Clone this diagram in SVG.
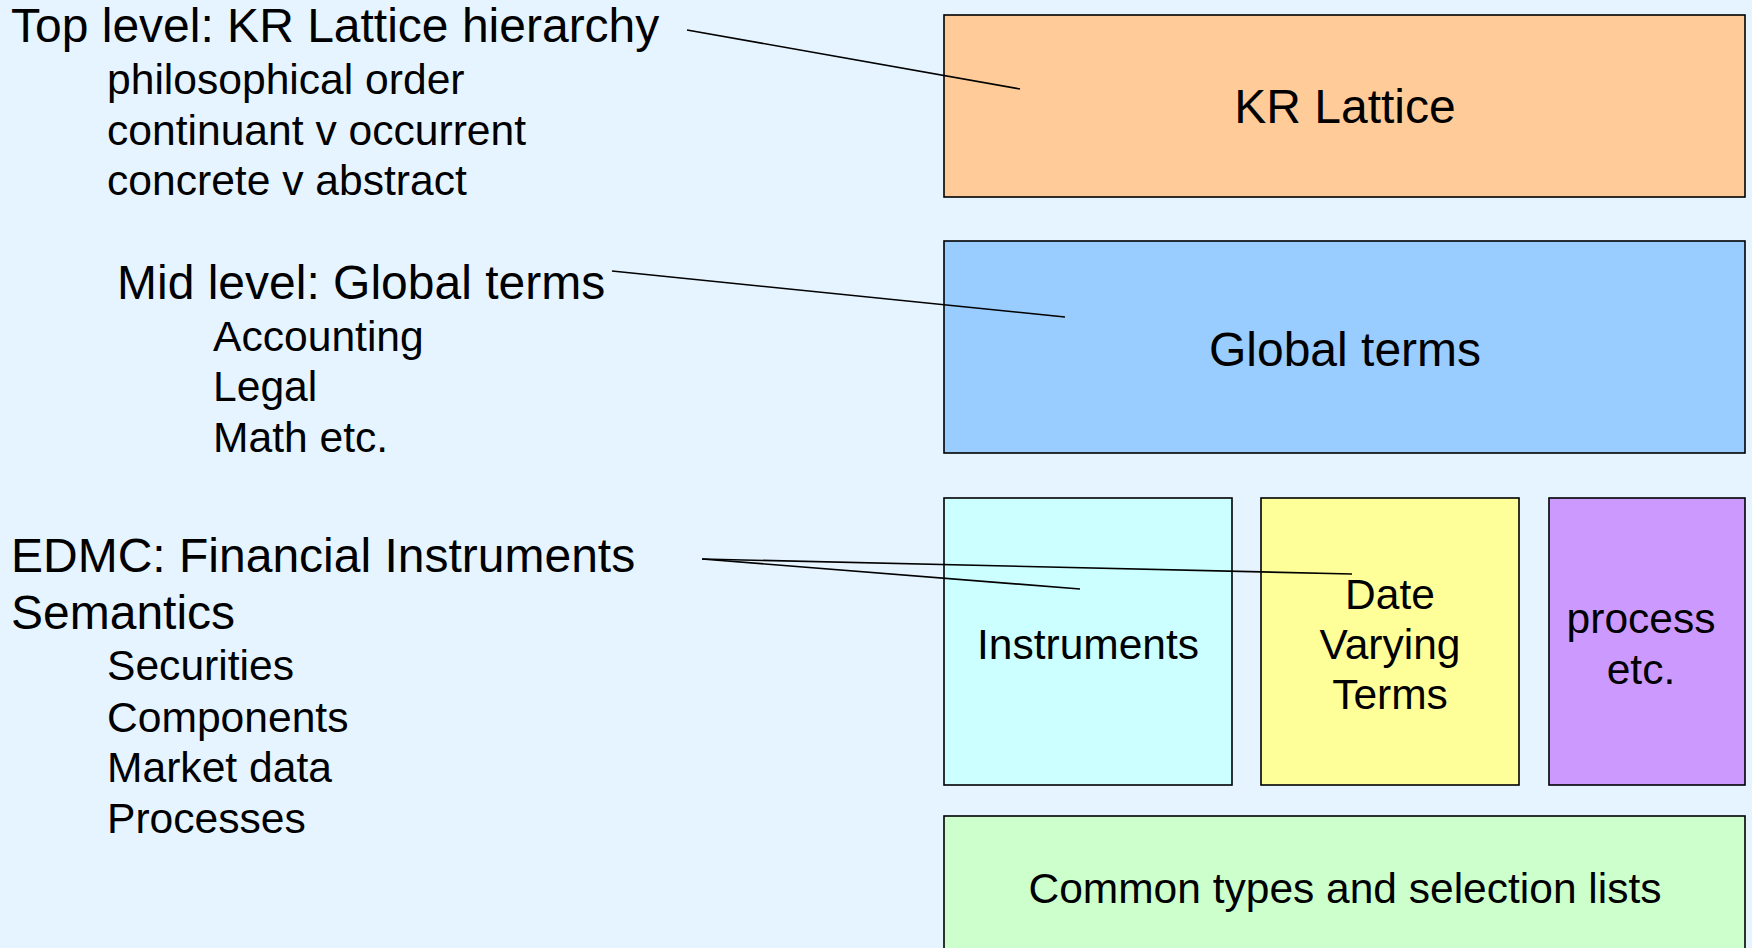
<svg xmlns="http://www.w3.org/2000/svg" width="1752" height="948" viewBox="0 0 1752 948">
<style>
.bg{fill:#E6F4FF}
.box{stroke:#000;stroke-width:1.6}
text{font-family:"Liberation Sans",Arial,sans-serif;fill:#000}
.h{font-size:48px}
.s{font-size:42.6px}
.bl{font-size:48px;text-anchor:middle}
.bs{font-size:42.5px;text-anchor:middle}
.conn line{stroke:#000;stroke-width:1.6}
</style>
<rect class="bg" x="0" y="0" width="1752" height="948"/>
<g id="labels">
<text class="h" x="11" y="42">Top level: KR Lattice hierarchy</text>
<text class="s" x="107" y="94">philosophical order</text>
<text class="s" x="107" y="145">continuant v occurrent</text>
<text class="s" x="107" y="195">concrete v abstract</text>
<text class="h" x="117" y="299">Mid level: Global terms</text>
<text class="s" x="213" y="351">Accounting</text>
<text class="s" x="213" y="401">Legal</text>
<text class="s" x="213" y="452">Math etc.</text>
<text class="h" x="11" y="572">EDMC: Financial Instruments</text>
<text class="h" x="11" y="629">Semantics</text>
<text class="s" x="107" y="680">Securities</text>
<text class="s" x="107" y="732">Components</text>
<text class="s" x="107" y="782">Market data</text>
<text class="s" x="107" y="833">Processes</text>
</g>
<g id="kr-lattice">
<rect class="box" x="944" y="15" width="801" height="182" fill="#FFCC99"/>
<text class="bl" x="1345" y="123">KR Lattice</text>
</g>
<g id="global-terms">
<rect class="box" x="944" y="241" width="801" height="212" fill="#99CCFF"/>
<text class="bl" x="1345" y="366">Global terms</text>
</g>
<g id="instruments">
<rect class="box" x="944" y="498" width="288" height="287" fill="#CCFFFF"/>
<text class="bs" x="1088" y="659">Instruments</text>
</g>
<g id="date-varying-terms">
<rect class="box" x="1261" y="498" width="258" height="287" fill="#FFFF99"/>
<text class="bs" x="1390" y="609">Date</text>
<text class="bs" x="1390" y="659">Varying</text>
<text class="bs" x="1390" y="709">Terms</text>
</g>
<g id="process-etc">
<rect class="box" x="1549" y="498" width="196" height="287" fill="#CC99FF"/>
<text class="bs" x="1641" y="633">process</text>
<text class="bs" x="1641" y="684">etc.</text>
</g>
<g id="common-types">
<rect class="box" x="944" y="816" width="801" height="150" fill="#CCFFCC"/>
<text class="bs" x="1345" y="903">Common types and selection lists</text>
</g>
<g id="connectors" class="conn">
<line x1="687" y1="30" x2="1020" y2="89"/>
<line x1="612" y1="271" x2="1065" y2="317"/>
<line x1="702" y1="559" x2="1080" y2="589"/>
<line x1="702" y1="559" x2="1352" y2="574"/>
</g>
</svg>
